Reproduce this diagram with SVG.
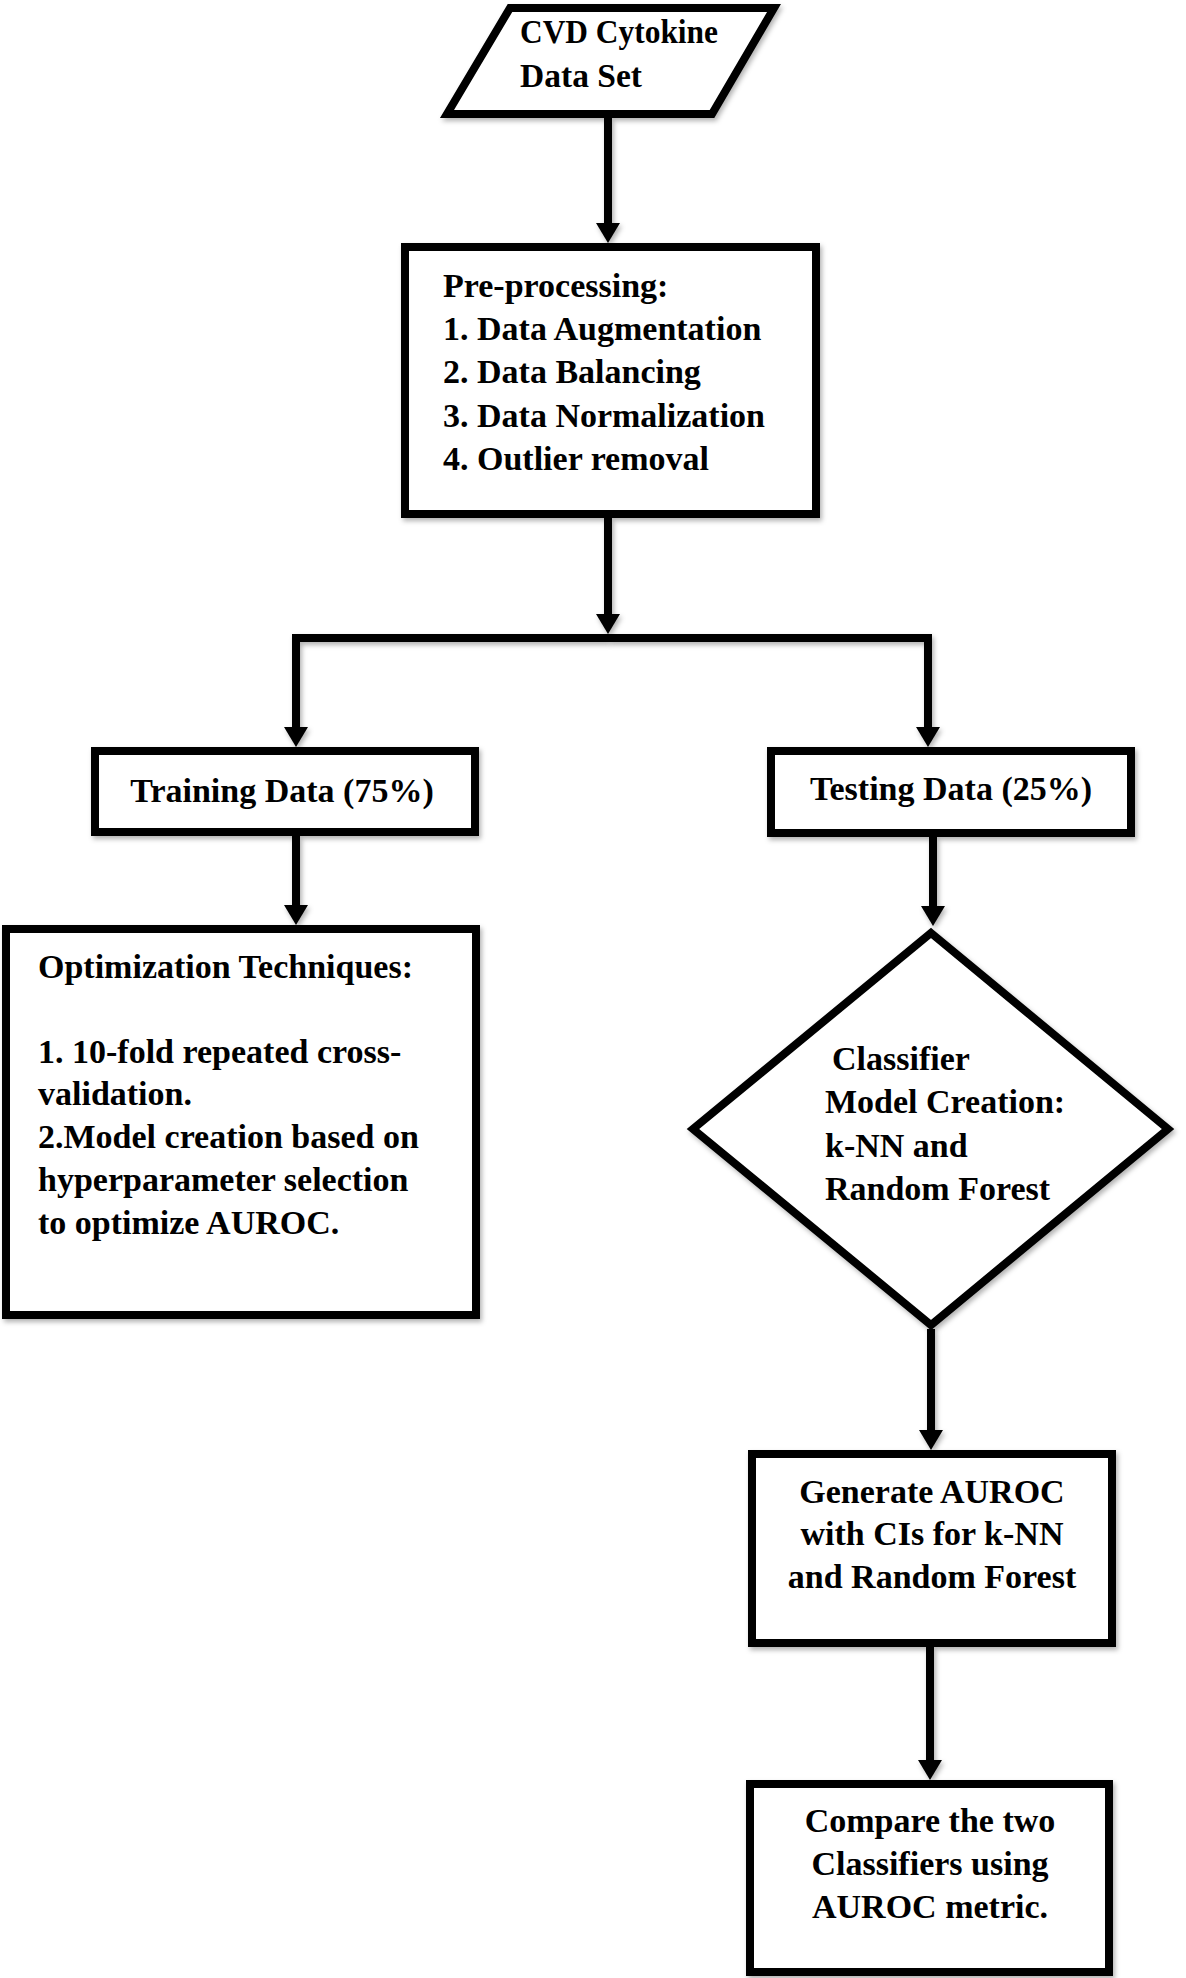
<svg xmlns="http://www.w3.org/2000/svg" width="1186" height="1978" viewBox="0 0 1186 1978">
<style>
.shape{fill:#fff;stroke:#000;stroke-width:8;stroke-linejoin:miter;filter:url(#sh)}
.conn{fill:none;stroke:#000;stroke-width:8;stroke-linejoin:miter;marker-end:url(#ah);filter:url(#sh)}
text{font-family:"Liberation Serif","Times New Roman",serif;font-weight:bold;font-size:34px;fill:#000}
.c{text-anchor:middle}
</style>
<defs>
<filter id="sh" filterUnits="userSpaceOnUse" x="0" y="0" width="1186" height="1978">
<feDropShadow dx="2" dy="3" stdDeviation="2.5" flood-color="#000" flood-opacity="0.3"/>
</filter>
<marker id="ah" viewBox="0 0 20 24" refX="6" refY="12" markerWidth="20" markerHeight="24" markerUnits="userSpaceOnUse" orient="auto">
<path d="M0,0 L20,12 L0,24 z" fill="#000"/>
</marker>
</defs>
<rect width="1186" height="1978" fill="#fff"/>
<g id="connectors">
<path class="conn" d="M608,118 V229"/>
<path class="conn" d="M608,518 V620"/>
<path class="conn" d="M608,638 H296 V733"/>
<path class="conn" d="M608,638 H928 V733"/>
<path class="conn" d="M296,836 V911"/>
<path class="conn" d="M933,837 V912"/>
<path class="conn" d="M931,1329 V1436"/>
<path class="conn" d="M930,1647 V1766"/>
</g>
<g id="dataset">
<polygon class="shape" points="510,8 774,8 712,114 447,114"/>
<text x="520" y="43" textLength="198" lengthAdjust="spacingAndGlyphs">CVD Cytokine</text>
<text x="520" y="87" textLength="122" lengthAdjust="spacingAndGlyphs">Data Set</text>
</g>
<g id="preprocessing">
<rect class="shape" x="405" y="247" width="411" height="267"/>
<text x="443" y="297">Pre-processing:</text>
<text x="443" y="340">1. Data Augmentation</text>
<text x="443" y="383">2. Data Balancing</text>
<text x="443" y="427">3. Data Normalization</text>
<text x="443" y="470">4. Outlier removal</text>
</g>
<g id="training">
<rect class="shape" x="95" y="751" width="380" height="81"/>
<text class="c" x="282" y="802">Training Data (75%)</text>
</g>
<g id="testing">
<rect class="shape" x="771" y="751" width="360" height="82"/>
<text class="c" x="951" y="800">Testing Data (25%)</text>
</g>
<g id="optimization">
<rect class="shape" x="6" y="929" width="470" height="386"/>
<text x="38" y="978">Optimization Techniques:</text>
<text x="38" y="1063">1. 10-fold repeated cross-</text>
<text x="38" y="1105">validation.</text>
<text x="38" y="1148">2.Model creation based on</text>
<text x="38" y="1191">hyperparameter selection</text>
<text x="38" y="1234">to optimize AUROC.</text>
</g>
<g id="classifier">
<polygon class="shape" points="931,933 1168,1129 931,1325 693,1129"/>
<text x="832" y="1070">Classifier</text>
<text x="825" y="1113">Model Creation:</text>
<text x="825" y="1157">k-NN and</text>
<text x="825" y="1200">Random Forest</text>
</g>
<g id="generate">
<rect class="shape" x="752" y="1454" width="360" height="189"/>
<text class="c" x="932" y="1503">Generate AUROC</text>
<text class="c" x="932" y="1545">with CIs for k-NN</text>
<text class="c" x="932" y="1588">and Random Forest</text>
</g>
<g id="compare">
<rect class="shape" x="750" y="1784" width="359" height="188"/>
<text class="c" x="930" y="1832">Compare the two</text>
<text class="c" x="930" y="1875">Classifiers using</text>
<text class="c" x="930" y="1918">AUROC metric.</text>
</g>
</svg>
